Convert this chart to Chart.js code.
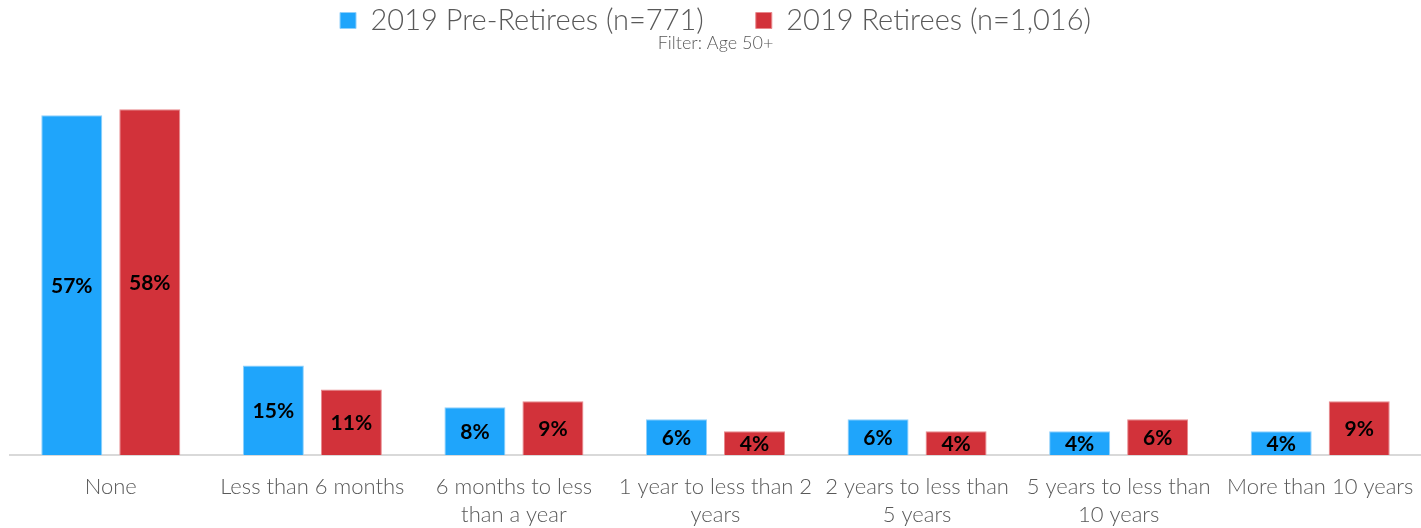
<!DOCTYPE html>
<html>
<head>
<meta charset="utf-8">
<script src="https://cdn.jsdelivr.net/npm/chart.js@4/dist/chart.umd.min.js"></script>
<style>
  html, body { margin: 0; padding: 0; background: #fff; }
  #wrap { width: 1421px; height: 528px; }
</style>
</head>
<body>
<div id="wrap"><canvas id="chart"></canvas></div>
<script>
const categories = [
  "None",
  "Less than 6 months",
  ["6 months to less", "than a year"],
  ["1 year to less than 2", "years"],
  ["2 years to less than", "5 years"],
  ["5 years to less than", "10 years"],
  "More than 10 years"
];
const preRetirees = [57, 15, 8, 6, 6, 4, 4];
const retirees = [58, 11, 9, 4, 4, 6, 9];
const seriesNames = ["2019 Pre-Retirees (n=771)", "2019 Retirees (n=1,016)"];
const filterText = "Filter: Age 50+";

const FONT = "Lato, 'Open Sans', sans-serif";

// labels in the middle of each bar
const barLabels = {
  id: "barLabels",
  afterDatasetsDraw(chart) {
    const ctx = chart.ctx;
    ctx.save();
    ctx.font = "bold 21px " + FONT;
    ctx.fillStyle = "#000";
    ctx.textAlign = "center";
    ctx.textBaseline = "middle";
    chart.data.datasets.forEach((ds, i) => {
      chart.getDatasetMeta(i).data.forEach((bar, j) => {
        const mid = (bar.y + bar.base) / 2;
        ctx.fillText(ds.data[j] + "%", bar.x, mid + 1);
      });
    });
    ctx.restore();
  }
};

new Chart(document.getElementById("chart"), {
  type: "bar",
  data: {
    labels: categories,
    datasets: [
      {
        label: seriesNames[0],
        data: preRetirees,
        backgroundColor: "#1FA5FB",
        borderColor: "#8FD0FB",
        borderWidth: 1,
        categoryPercentage: 0.774,
        barPercentage: 0.782
      },
      {
        label: seriesNames[1],
        data: retirees,
        backgroundColor: "#D2323A",
        borderColor: "#E8888C",
        borderWidth: 1,
        categoryPercentage: 0.774,
        barPercentage: 0.782
      }
    ]
  },
  options: {
    responsive: true,
    maintainAspectRatio: false,
    animation: false,
    layout: { padding: { left: 10, right: 0, top: -46, bottom: 0 } },
    plugins: {
      legend: {
        position: "top",
        labels: {
          font: { family: FONT, size: 29, weight: "300" },
          color: "#595959",
          boxWidth: 16,
          boxHeight: 16,
          padding: 52
        }
      },
      subtitle: {
        display: true,
        text: filterText,
        weight: 500,
        color: "#595959",
        font: { family: FONT, size: 18, weight: "300" },
        padding: { top: -13, bottom: 14 }
      },
      tooltip: { enabled: false }
    },
    scales: {
      x: {
        grid: { display: false, drawTicks: false },
        border: { display: true, color: "#D9D9D9", width: 2 },
        ticks: {
          color: "#595959",
          font: { family: FONT, size: 22, weight: "300", lineHeight: 1.273 },
          autoSkip: false,
          maxRotation: 0,
          padding: 18
        },
        afterFit(scale) {
          scale.height = 73;
          scale.paddingLeft = 0;
          scale.paddingRight = 0;
        }
      },
      y: {
        display: false,
        min: 0,
        max: 65
      }
    }
  },
  plugins: [barLabels]
});
</script>
</body>
</html>
